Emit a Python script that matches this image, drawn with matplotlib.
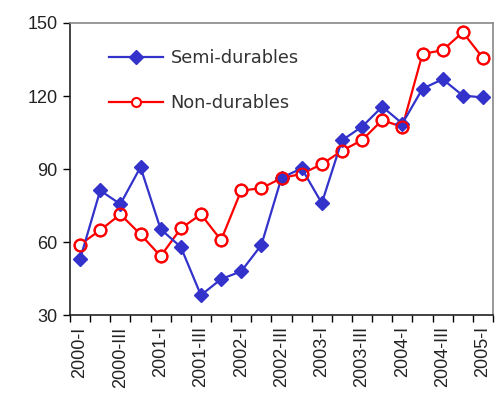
import numpy as np
import matplotlib.pyplot as plt
from matplotlib.ticker import FixedLocator

quarters = ["2000-I", "2000-II", "2000-III", "2000-IV",
            "2001-I", "2001-II", "2001-III", "2001-IV",
            "2002-I", "2002-II", "2002-III", "2002-IV",
            "2003-I", "2003-II", "2003-III", "2003-IV",
            "2004-I", "2004-II", "2004-III", "2004-IV",
            "2005-I"]
semi_durables = [53.0, 81.2, 75.6, 90.8, 65.3, 58.0, 38.2, 44.8, 48.0, 58.8,
                 86.4, 90.3, 76.0, 101.8, 107.4, 115.6, 108.7, 123.0, 126.9,
                 120.2, 119.4]
non_durables = [59.0, 64.9, 71.4, 63.2, 54.2, 65.6, 71.4, 60.8, 81.2, 82.1,
                86.3, 88.0, 92.0, 97.5, 101.9, 110.1, 107.3, 137.3, 138.8,
                146.2, 135.6]

blue = "#3333cc"
red = "#ff0000"

fig = plt.figure(figsize=(5.0, 4.03), dpi=100)
ax = fig.add_axes([0.14, 0.218, 0.846, 0.725])

x = np.arange(len(quarters))

# red line with white filled circles, blue on top, then red rings again
ax.plot(x, non_durables, color=red, lw=1.6, marker="o", ms=8.5,
        mfc="white", mec=red, mew=1.5, zorder=2)
ax.plot(x, semi_durables, color=blue, lw=1.6, marker="D", ms=7.5,
        mfc=blue, mec=blue, zorder=3)
ax.plot(x, non_durables, ls="none", marker="o", ms=8.5,
        mfc="none", mec=red, mew=1.5, zorder=4)

# legend proxies
h1, = ax.plot([], [], color=blue, lw=1.6, marker="D", ms=7, mfc=blue, mec=blue,
              label="Semi-durables")
h2, = ax.plot([], [], color=red, lw=1.6, marker="o", ms=6.5, mfc="white",
              mec=red, mew=1.5, label="Non-durables")
leg = ax.legend(handles=[h1, h2], loc="upper left",
                bbox_to_anchor=(0.055, 0.965), frameon=False,
                prop={"family": "DejaVu Sans", "size": 12.8},
                handlelength=3.0, handletextpad=0.45, labelspacing=1.5)
for t in leg.get_texts():
    t.set_color("#333333")

ax.set_ylim(30, 150)
ax.set_yticks([30, 60, 90, 120, 150])
ax.set_xlim(-0.5, len(quarters) - 0.5)
ax.set_xticks(x[::2])
ax.set_xticklabels(quarters[::2], rotation=90)
ax.xaxis.set_minor_locator(FixedLocator(np.arange(-0.5, len(quarters), 1.0)))
ax.tick_params(axis="x", which="major", length=0, pad=8)
ax.tick_params(axis="x", which="minor", length=5, width=1, direction="out")
ax.tick_params(axis="y", length=5, width=1, direction="out", pad=4)

for lab in ax.get_xticklabels() + ax.get_yticklabels():
    lab.set_fontfamily("Liberation Sans")
    lab.set_fontsize(13)
    lab.set_color("#222222")

for s in ["left", "bottom"]:
    ax.spines[s].set_color("#222222")
    ax.spines[s].set_linewidth(1.2)
for s in ["top", "right"]:
    ax.spines[s].set_color("#888888")
    ax.spines[s].set_linewidth(1.2)

fig.savefig("out.png", dpi=100)
